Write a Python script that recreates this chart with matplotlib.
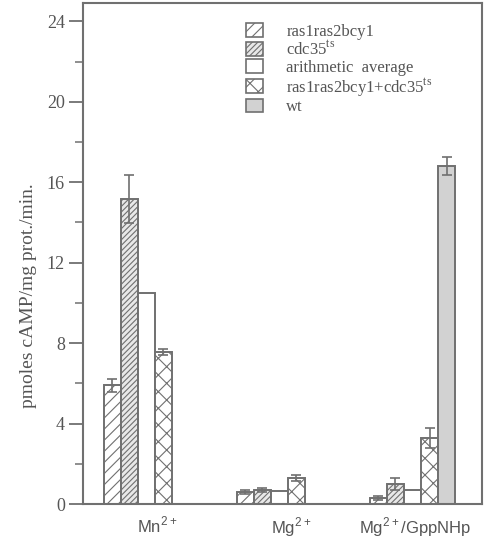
import numpy as np
import matplotlib
matplotlib.use("Agg")
import matplotlib.pyplot as plt
from matplotlib.patches import Patch
from matplotlib.ticker import MultipleLocator

plt.rcParams['font.family'] = ['Liberation Serif', 'DejaVu Serif']
plt.rcParams['mathtext.fontset'] = 'custom'
plt.rcParams['mathtext.rm'] = 'Liberation Serif'
plt.rcParams['mathtext.sf'] = 'Liberation Sans'
plt.rcParams['hatch.linewidth'] = 0.8

# data
groups = ['Mn$^{\\mathsf{2+}}$', 'Mg$^{\\mathsf{2+}}$', 'Mg$^{\\mathsf{2+}}$/GppNHp']
series = ['ras1ras2bcy1', 'cdc35$^{\\mathrm{ts}}$', 'arithmetic  average',
          'ras1ras2bcy1+cdc35$^{\\mathrm{ts}}$', 'wt']
ras = [5.9, 0.6, 0.3]
ras_err = [0.33, 0.1, 0.12]
cdc35 = [15.15, 0.7, 1.0]
cdc35_err = [1.2, 0.12, 0.3]
average = [10.5, 0.65, 0.7]
combined = [7.55, 1.3, 3.3]
combined_err = [0.15, 0.15, 0.5]
wt = [np.nan, np.nan, 16.8]
wt_err = [0, 0, 0.45]

values = [ras, cdc35, average, combined, wt]
errors = [ras_err, cdc35_err, None, combined_err, wt_err]

edge = '#707070'
txt = '#555555'
styles = [
    dict(facecolor='white', hatch='///'),
    dict(facecolor='#e8e8e8', hatch='//////'),
    dict(facecolor='white', hatch=None),
    dict(facecolor='white', hatch='xx'),
    dict(facecolor='#d2d2d2', hatch=None),
]

fig = plt.figure(figsize=(4.85, 5.38), dpi=100)
ax = fig.add_axes([0.171, 0.063, 0.823, 0.931])

width = 17 / 133
x = np.arange(len(groups))
for i, (vals, errs, st) in enumerate(zip(values, errors, styles)):
    pos = x + (i - 2) * width
    ax.bar(pos, vals, width, align='center', edgecolor=edge, linewidth=1.4, **st)
    if errs is not None:
        ax.errorbar(pos, vals, yerr=errs, fmt='none', ecolor=edge,
                    elinewidth=1.2, capsize=3.5, capthick=1.2)

ax.set_xlim(-0.477, 2.523)
ax.set_ylim(0, 24.9)
ax.yaxis.set_major_locator(MultipleLocator(4))
ax.yaxis.set_minor_locator(MultipleLocator(2))
ax.tick_params(axis='y', which='major', direction='out', length=10, width=1.3,
               color=edge, labelsize=13, labelcolor=txt, pad=3)
ax.tick_params(axis='y', which='minor', direction='out', length=6, width=1.1, color=edge)
ax.set_xticks([0.079, 1.086, 2.02])
ax.set_xticklabels(groups, family='Liberation Sans', fontsize=12, color=txt)
ax.tick_params(axis='x', length=0, pad=8)
for s in ax.spines.values():
    s.set_color(edge)
    s.set_linewidth(1.5)

ax.set_ylabel('pmoles cAMP/mg prot./min.', fontsize=14, color=txt)
ax.yaxis.set_label_coords(-0.115, 0.417)

handles = [Patch(edgecolor=edge, linewidth=1.2, **st) for st in styles]
ax.legend(handles, series, loc='upper left', bbox_to_anchor=(0.372, 0.99),
          frameon=False, fontsize=12, labelcolor=txt, handlelength=1.0,
          handleheight=0.9, labelspacing=0.0, handletextpad=1.4)

fig.savefig('out.png', dpi=100)
